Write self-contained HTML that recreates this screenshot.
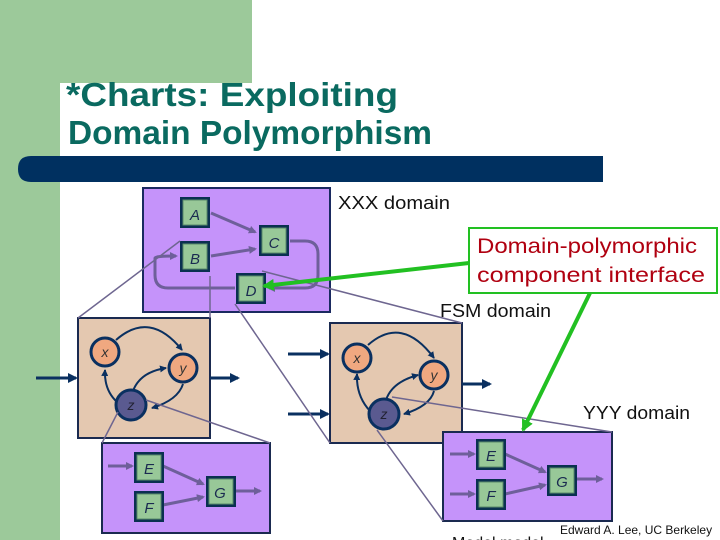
<!DOCTYPE html>
<html><head><meta charset="utf-8"><style>
html,body{margin:0;padding:0;background:#fff}
svg{display:block}
text{font-family:"Liberation Sans",sans-serif}
</style></head><body>
<svg width="720" height="540" viewBox="0 0 720 540" xmlns="http://www.w3.org/2000/svg">
<defs>
<marker id="ag" markerWidth="8" markerHeight="8" refX="6" refY="4" orient="auto" markerUnits="userSpaceOnUse"><path d="M0,0L8,4L0,8z" fill="#6e5f9a"/></marker>
<marker id="an" markerWidth="10" markerHeight="10" refX="8" refY="5" orient="auto" markerUnits="userSpaceOnUse"><path d="M0,0L10,5L0,10z" fill="#0a3060"/></marker>
<marker id="as" markerWidth="7" markerHeight="7" refX="6" refY="3.5" orient="auto" markerUnits="userSpaceOnUse"><path d="M0,0L7,3.5L0,7z" fill="#0a3060"/></marker>
<marker id="agr" markerWidth="12" markerHeight="12" refX="10" refY="6" orient="auto" markerUnits="userSpaceOnUse"><path d="M0,0L12,6L0,12z" fill="#22c022"/></marker>
<g id="node"><rect x="0" y="0" width="30" height="31" fill="#0a3050"/><rect x="3" y="3" width="24" height="25" fill="#98c898" stroke="#5a8a6a"/></g>
</defs>
<rect x="0" y="0" width="60" height="540" fill="#9cc99a"/>
<rect x="0" y="0" width="252" height="83" fill="#9cc99a"/>
<path d="M60,540 V103 Q60,83 80,83 H252 V540z" fill="#fff"/>
<rect x="252" y="0" width="468" height="540" fill="#fff"/>
<text x="66" y="106" font-size="33" font-weight="bold" fill="#0a6a60" textLength="332" lengthAdjust="spacingAndGlyphs">*Charts: Exploiting</text>
<text x="68" y="144" font-size="33" font-weight="bold" fill="#0a6a60" textLength="364" lengthAdjust="spacingAndGlyphs">Domain Polymorphism</text>
<path d="M31,156 H603 V182 H31 Q18,182 18,169 Q18,156 31,156z" fill="#003060"/>

<!-- XXX box -->
<rect x="143" y="188" width="187" height="124" fill="#c593fa" stroke="#1a2a60" stroke-width="2"/>
<g stroke="#6e5f9a" stroke-width="3" fill="none">
<line x1="211" y1="213" x2="255" y2="232" marker-end="url(#ag)"/>
<line x1="211" y1="256" x2="255" y2="249" marker-end="url(#ag)"/>
<path d="M290,241 H305 Q318,241 318,254 V275 Q318,288 305,288 H269" marker-end="url(#ag)"/>
<path d="M235,288 H168 Q155,288 155,275 V258 Q155,256 176,256" marker-end="url(#ag)"/>
</g>
<use href="#node" x="180" y="197"/><text x="195" y="220" font-size="15" text-anchor="middle" font-style="italic" fill="#1a2a50">A</text>
<use href="#node" x="180" y="241"/><text x="195" y="264" font-size="15" text-anchor="middle" font-style="italic" fill="#1a2a50">B</text>
<use href="#node" x="259" y="225"/><text x="274" y="248" font-size="15" text-anchor="middle" font-style="italic" fill="#1a2a50">C</text>
<use href="#node" x="236" y="273"/><text x="251" y="296" font-size="15" text-anchor="middle" font-style="italic" fill="#1a2a50">D</text>
<text x="338" y="209" font-size="18" fill="#111" textLength="112" lengthAdjust="spacingAndGlyphs">XXX domain</text>

<!-- FSM left -->
<rect x="78" y="318" width="132" height="120" fill="#e4c8b0" stroke="#1a2a50" stroke-width="2"/>
<line x1="36" y1="378" x2="76" y2="378" stroke="#0a3060" stroke-width="3" marker-end="url(#an)"/>
<line x1="210" y1="378" x2="238" y2="378" stroke="#0a3060" stroke-width="3" marker-end="url(#an)"/>
<g stroke="#0a3060" stroke-width="2" fill="none">
<path d="M116,340 Q150,310 182,350" marker-end="url(#as)"/>
<path d="M133,391 Q140,372 166,368" marker-end="url(#as)"/>
<path d="M183,384 Q178,400 152,408" marker-end="url(#as)"/>
<path d="M117,402 Q104,390 105,370" marker-end="url(#as)"/>
</g>
<circle cx="105" cy="352" r="14" fill="#f0a880" stroke="#0a3060" stroke-width="3"/>
<circle cx="183" cy="368" r="14" fill="#f0a880" stroke="#0a3060" stroke-width="3"/>
<circle cx="131" cy="405" r="15" fill="#5a5a90" stroke="#0a3060" stroke-width="3"/>
<text x="105" y="357" font-size="14" text-anchor="middle" font-style="italic" fill="#333">x</text>
<text x="183" y="373" font-size="14" text-anchor="middle" font-style="italic" fill="#333">y</text>
<text x="131" y="410" font-size="14" text-anchor="middle" font-style="italic" fill="#223">z</text>

<!-- FSM right -->
<rect x="330" y="323" width="132" height="120" fill="#e4c8b0" stroke="#1a2a50" stroke-width="2"/>
<line x1="288" y1="354" x2="328" y2="354" stroke="#0a3060" stroke-width="3" marker-end="url(#an)"/>
<line x1="288" y1="414" x2="328" y2="414" stroke="#0a3060" stroke-width="3" marker-end="url(#an)"/>
<line x1="462" y1="384" x2="490" y2="384" stroke="#0a3060" stroke-width="3" marker-end="url(#an)"/>
<g stroke="#0a3060" stroke-width="2" fill="none">
<path d="M368,345 Q402,315 434,358" marker-end="url(#as)"/>
<path d="M386,400 Q392,382 418,375" marker-end="url(#as)"/>
<path d="M434,391 Q430,406 404,414" marker-end="url(#as)"/>
<path d="M370,411 Q356,396 357,374" marker-end="url(#as)"/>
</g>
<circle cx="357" cy="358" r="14" fill="#f0a880" stroke="#0a3060" stroke-width="3"/>
<circle cx="434" cy="375" r="14" fill="#f0a880" stroke="#0a3060" stroke-width="3"/>
<circle cx="384" cy="414" r="15" fill="#5a5a90" stroke="#0a3060" stroke-width="3"/>
<text x="357" y="363" font-size="14" text-anchor="middle" font-style="italic" fill="#333">x</text>
<text x="434" y="380" font-size="14" text-anchor="middle" font-style="italic" fill="#333">y</text>
<text x="384" y="419" font-size="14" text-anchor="middle" font-style="italic" fill="#223">z</text>

<!-- YYY left -->
<rect x="102" y="443" width="168" height="90" fill="#c593fa" stroke="#1a2a50" stroke-width="2"/>
<g stroke="#6e5f9a" stroke-width="3" fill="none">
<line x1="108" y1="466" x2="132" y2="466" marker-end="url(#ag)"/>
<line x1="163" y1="466" x2="203" y2="484" marker-end="url(#ag)"/>
<line x1="163" y1="505" x2="203" y2="497" marker-end="url(#ag)"/>
<line x1="234" y1="491" x2="260" y2="491" marker-end="url(#ag)"/>
</g>
<use href="#node" x="134" y="452"/><text x="149" y="474" font-size="15" text-anchor="middle" font-style="italic" fill="#1a2a50">E</text>
<use href="#node" x="134" y="491"/><text x="149" y="513" font-size="15" text-anchor="middle" font-style="italic" fill="#1a2a50">F</text>
<use href="#node" x="206" y="476"/><text x="220" y="498" font-size="15" text-anchor="middle" font-style="italic" fill="#1a2a50">G</text>

<!-- YYY right -->
<rect x="443" y="432" width="169" height="89" fill="#c593fa" stroke="#1a2a50" stroke-width="2"/>
<g stroke="#6e5f9a" stroke-width="3" fill="none">
<line x1="450" y1="454" x2="474" y2="454" marker-end="url(#ag)"/>
<line x1="450" y1="494" x2="474" y2="494" marker-end="url(#ag)"/>
<line x1="505" y1="454" x2="545" y2="472" marker-end="url(#ag)"/>
<line x1="505" y1="494" x2="545" y2="485" marker-end="url(#ag)"/>
<line x1="576" y1="479" x2="602" y2="479" marker-end="url(#ag)"/>
</g>
<use href="#node" x="476" y="439"/><text x="491" y="461" font-size="15" text-anchor="middle" font-style="italic" fill="#1a2a50">E</text>
<use href="#node" x="476" y="479"/><text x="491" y="501" font-size="15" text-anchor="middle" font-style="italic" fill="#1a2a50">F</text>
<use href="#node" x="547" y="465"/><text x="562" y="487" font-size="15" text-anchor="middle" font-style="italic" fill="#1a2a50">G</text>

<!-- zoom lines -->
<g stroke="#6e6690" stroke-width="1.5" fill="none">
<line x1="180" y1="241" x2="78" y2="318"/>
<line x1="210" y1="276" x2="210" y2="318"/>
<line x1="235" y1="304" x2="330" y2="443"/>
<line x1="262" y1="271" x2="462" y2="323"/>
<line x1="118" y1="412" x2="102" y2="443"/>
<line x1="146" y1="400" x2="270" y2="443"/>
<line x1="392" y1="397" x2="612" y2="432"/>
<line x1="377" y1="430" x2="443" y2="521"/>
</g>

<!-- callout -->
<rect x="469" y="228" width="248" height="65" fill="#fff" stroke="#22c022" stroke-width="2"/>
<text x="477" y="253" font-size="21" fill="#b00010" textLength="220" lengthAdjust="spacingAndGlyphs">Domain-polymorphic</text>
<text x="477" y="282" font-size="21" fill="#b00010" textLength="228" lengthAdjust="spacingAndGlyphs">component interface</text>
<line x1="469" y1="263" x2="264" y2="286" stroke="#22c022" stroke-width="4" marker-end="url(#agr)"/>
<line x1="590" y1="293" x2="523" y2="430" stroke="#22c022" stroke-width="4" marker-end="url(#agr)"/>

<text x="440" y="317" font-size="18" fill="#111" textLength="111" lengthAdjust="spacingAndGlyphs">FSM domain</text>
<text x="583" y="419" font-size="18" fill="#111" textLength="107" lengthAdjust="spacingAndGlyphs">YYY domain</text>
<text x="560" y="534" font-size="12" fill="#111">Edward A. Lee, UC Berkeley</text>
<text x="452" y="548" font-size="16" fill="#111">Model model</text>
</svg>
</body></html>
